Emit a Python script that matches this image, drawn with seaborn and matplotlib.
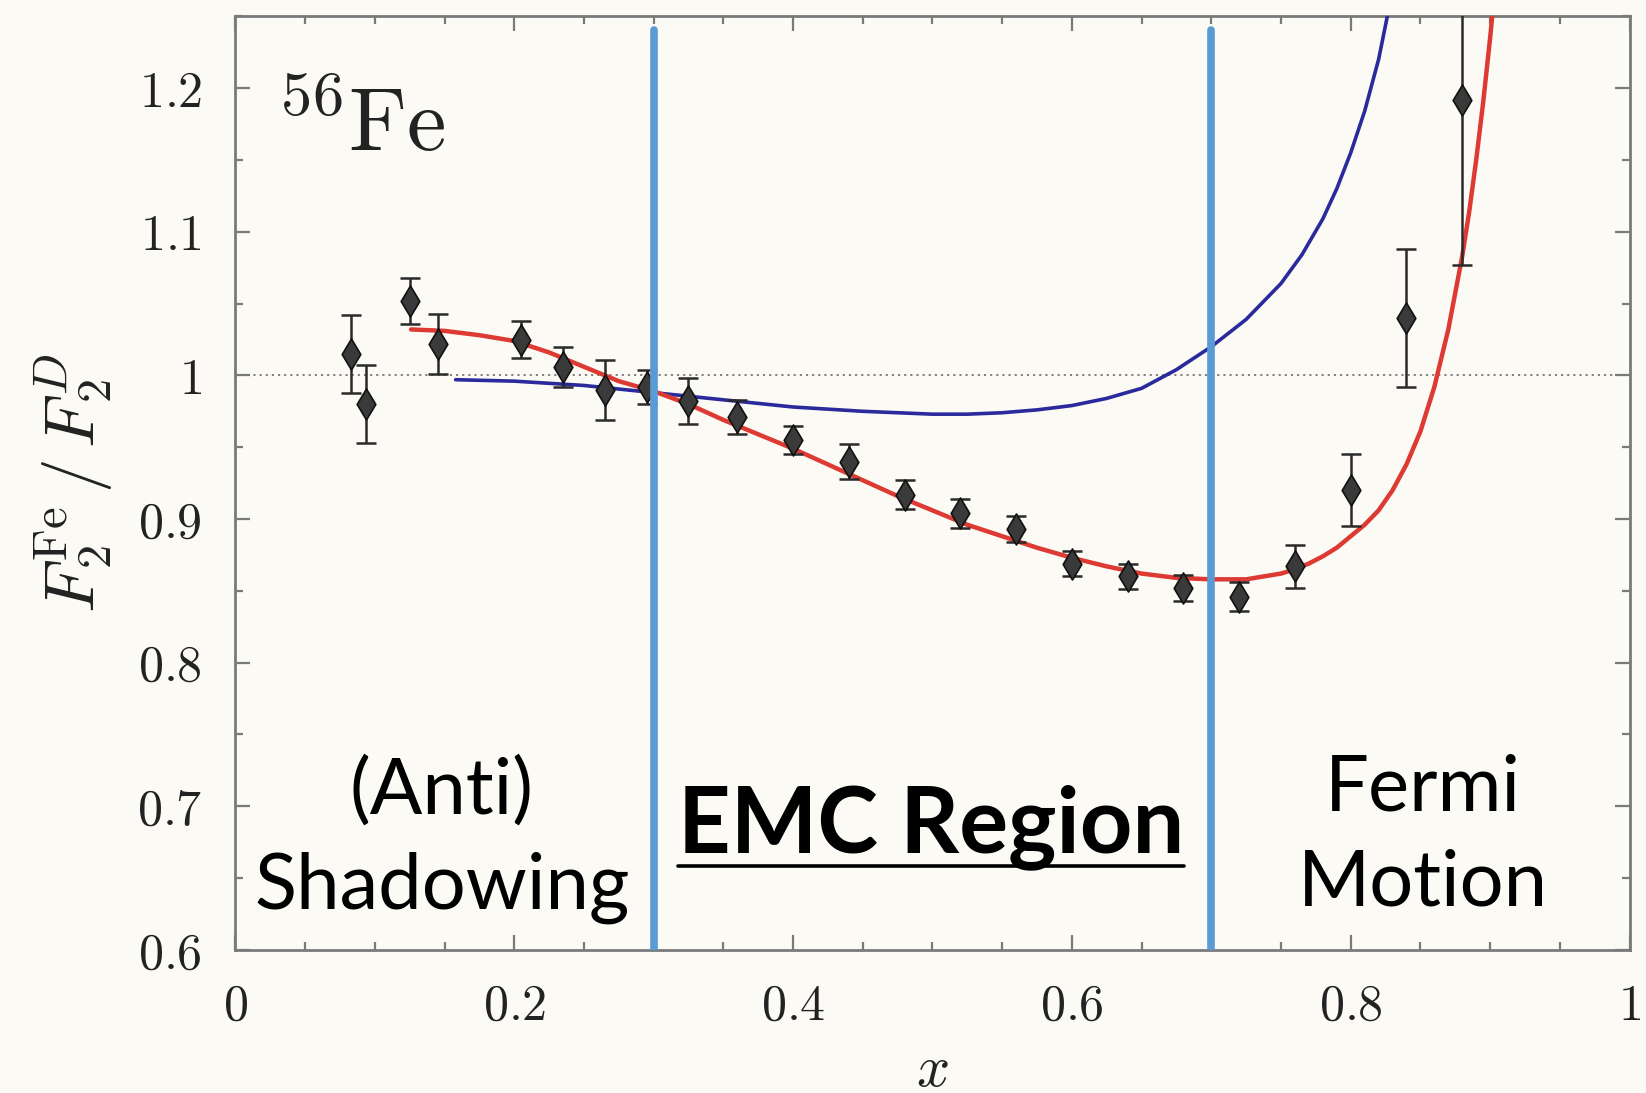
import numpy as np
import pandas as pd
import matplotlib
matplotlib.use("Agg")
import matplotlib.pyplot as plt
import seaborn as sns
from matplotlib.ticker import FixedLocator, FixedFormatter, MultipleLocator
from matplotlib.lines import Line2D

# ---------------- data ----------------
data_x = [0.083, 0.094, 0.125, 0.145, 0.205, 0.235, 0.265, 0.295, 0.325, 0.36, 0.40, 0.44,
          0.48, 0.52, 0.56, 0.60, 0.64, 0.68, 0.72, 0.76, 0.80, 0.84, 0.88]
data_y = [1.015, 0.980, 1.052, 1.022, 1.025, 1.006, 0.990, 0.992, 0.982, 0.971, 0.955, 0.940,
          0.917, 0.904, 0.893, 0.869, 0.860, 0.852, 0.846, 0.867, 0.920, 1.040, 1.192]
data_err = [0.027, 0.027, 0.016, 0.021, 0.013, 0.014, 0.021, 0.012, 0.016, 0.012, 0.010, 0.012,
            0.010, 0.010, 0.009, 0.009, 0.009, 0.009, 0.010, 0.015, 0.025, 0.048, 0.115]

red_x = [0.126, 0.15, 0.175, 0.20, 0.225, 0.25, 0.275, 0.30, 0.325, 0.35, 0.375, 0.40, 0.425,
         0.45, 0.475, 0.50, 0.525, 0.55, 0.575, 0.60, 0.625, 0.65, 0.675, 0.70, 0.725, 0.75,
         0.76, 0.77, 0.78, 0.79, 0.80, 0.81, 0.82, 0.83, 0.84, 0.85, 0.86, 0.87, 0.88, 0.885,
         0.89, 0.895, 0.90, 0.905]
red_y = [1.032, 1.031, 1.028, 1.024, 1.016, 1.006, 0.996, 0.989, 0.980, 0.969, 0.959, 0.949, 0.938,
         0.927, 0.916, 0.906, 0.896, 0.888, 0.880, 0.873, 0.867, 0.862, 0.859, 0.858, 0.858, 0.862,
         0.865, 0.869, 0.874, 0.880, 0.888, 0.896, 0.906, 0.920, 0.938, 0.961, 0.992, 1.032, 1.083,
         1.114, 1.150, 1.190, 1.235, 1.285]

blue_x = [0.158, 0.20, 0.25, 0.30, 0.35, 0.40, 0.45, 0.50, 0.525, 0.55, 0.575, 0.60, 0.625, 0.65,
          0.675, 0.70, 0.725, 0.75, 0.765, 0.78, 0.79, 0.80, 0.81, 0.82, 0.83]
blue_y = [0.997, 0.996, 0.993, 0.988, 0.983, 0.978, 0.975, 0.973, 0.973, 0.974, 0.976, 0.979, 0.984,
          0.991, 1.004, 1.020, 1.039, 1.064, 1.084, 1.109, 1.130, 1.155, 1.184, 1.220, 1.268]

region_bounds = [0.3, 0.7]
region_labels = ["(Anti)\nShadowing", "EMC Region", "Fermi\nMotion"]
region_label_x = [0.148, 0.499, 0.852]
region_label_y = [0.629, 0.668, 0.631]

xticks = [0, 0.2, 0.4, 0.6, 0.8, 1.0]
xtick_labels = ["0", "0.2", "0.4", "0.6", "0.8", "1"]
yticks = [0.6, 0.7, 0.8, 0.9, 1.0, 1.1, 1.2]
ytick_labels = ["0.6", "0.7", "0.8", "0.9", "1", "1.1", "1.2"]

nucleus_label = r"$^{56}\mathrm{Fe}$"
xlabel = r"$x$"
ylabel = r"$F_2^{\rm Fe}\,/\,F_2^D$"

# ---------------- style ----------------
BG = "#FCFAF4"
sns.set_theme(style="ticks")
plt.rcParams["mathtext.fontset"] = "cm"
plt.rcParams["font.family"] = ["Lato", "DejaVu Sans"]

fig = plt.figure(figsize=(16.46, 10.93), dpi=100, facecolor=BG)
ax = fig.add_axes([0.143, 0.131, 0.847, 0.854])
ax.set_facecolor(BG)

pts = pd.DataFrame({"x": data_x, "y": data_y, "err": data_err})
red = pd.DataFrame({"x": red_x, "y": red_y})
blue = pd.DataFrame({"x": blue_x, "y": blue_y})

ax.axhline(1.0, color="#777777", ls=(0, (1.2, 2.2)), lw=1.3, zorder=1)

sns.lineplot(data=blue, x="x", y="y", color="#2A2A9C", lw=2.6, sort=False,
             estimator=None, ax=ax, zorder=3)
sns.lineplot(data=red, x="x", y="y", color="#DD3A33", lw=3.2, sort=False,
             estimator=None, ax=ax, zorder=3)

ax.errorbar(pts["x"], pts["y"], yerr=pts["err"], fmt="none", ecolor="#2a2a2a",
            elinewidth=1.8, capsize=7, capthick=1.8, zorder=4)
sns.scatterplot(data=pts, x="x", y="y", marker="d", s=250, color="#3a3a3a",
                edgecolor="#111111", linewidth=1.2, ax=ax, zorder=5)

for b in region_bounds:
    ax.axvline(b, ymin=0, ymax=0.985, color="#5B9BD5", lw=5.5, zorder=6)

ax.set_xlim(0, 1)
ax.set_ylim(0.6, 1.25)

ax.xaxis.set_major_locator(FixedLocator(xticks))
ax.xaxis.set_major_formatter(FixedFormatter([f"${t}$" for t in xtick_labels]))
ax.yaxis.set_major_locator(FixedLocator(yticks))
ax.yaxis.set_major_formatter(FixedFormatter([f"${t}$" for t in ytick_labels]))
ax.xaxis.set_minor_locator(MultipleLocator(0.05))
ax.yaxis.set_minor_locator(MultipleLocator(0.05))

spine_c = "#7a7a7a"
for s in ax.spines.values():
    s.set_color(spine_c)
    s.set_linewidth(2.0)
ax.tick_params(which="both", direction="in", top=True, right=True, color=spine_c, width=1.6)
ax.tick_params(which="major", length=11, labelsize=36, pad=24, labelcolor="#222222")
ax.tick_params(which="minor", length=6)

ax.set_xlabel(xlabel, fontsize=42, labelpad=10, color="#222222")
ax.set_ylabel(ylabel, fontsize=50, labelpad=16, color="#222222")

ax.text(0.030, 1.156, nucleus_label, fontsize=64, color="#222222", va="baseline", ha="left",
        zorder=7)

# region annotations
ax.text(region_label_x[0], region_label_y[0], region_labels[0], fontsize=56, ha="center",
        va="baseline", color="black", linespacing=1.42, zorder=7)
emc = ax.text(region_label_x[1], region_label_y[1], region_labels[1], fontsize=66,
              fontweight="bold", ha="center", va="baseline", color="black", zorder=7)
ax.text(region_label_x[2], region_label_y[2], region_labels[2], fontsize=56, ha="center",
        va="baseline", color="black", linespacing=1.42, zorder=7)

# underline for the EMC Region label, computed from its rendered extent
fig.canvas.draw()
bb = emc.get_window_extent()
base_px = ax.transData.transform((region_label_x[1], region_label_y[1]))[1]
uy = base_px - 14
inv = fig.transFigure.inverted()
(fx0, fy), (fx1, _) = inv.transform([(bb.x0, uy), (bb.x1, uy)])
fig.add_artist(Line2D([fx0, fx1], [fy, fy], transform=fig.transFigure, color="black", lw=2.6,
                      zorder=8))

fig.savefig("out.png", dpi=100, facecolor=BG)
